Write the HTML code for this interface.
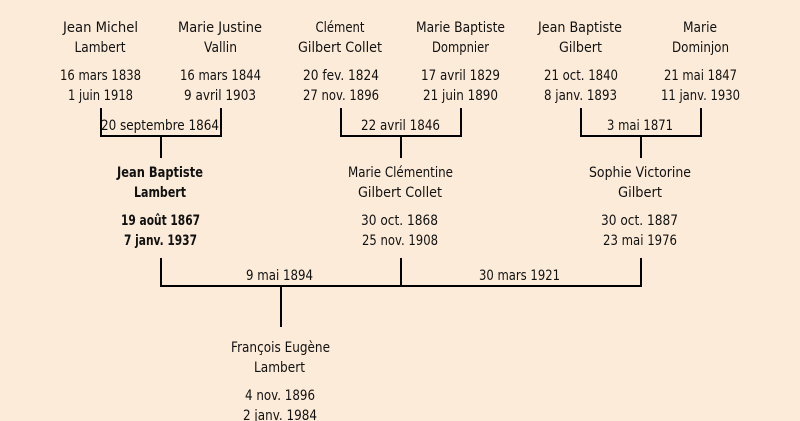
<!DOCTYPE html>
<html><head><meta charset="utf-8"><style>
html,body{margin:0;padding:0;background:#fcebd8}
svg{display:block}
text{font-family:"DejaVu Sans","Liberation Sans",sans-serif;font-size:14px;fill:#111;text-anchor:middle}
.b{font-weight:bold}
</style></head><body>
<svg width="800" height="421" viewBox="0 0 800 421" xmlns="http://www.w3.org/2000/svg">
<rect width="800" height="421" fill="#fcebd8"/>
<g fill="none" stroke="#000" stroke-width="2">
<path d="M101 108V136H221V108M161 136V158"/>
<path d="M341 108V136H461V108M401 136V158"/>
<path d="M581 108V136H701V108M641 136V158"/>
<path d="M161 258V286H641V258M401 258V286M281 286V327"/>
</g>
<g>
<text x="100.500" y="32" textLength="75" lengthAdjust="spacingAndGlyphs">Jean Michel</text>
<text x="100" y="52" textLength="51" lengthAdjust="spacingAndGlyphs">Lambert</text>
<text x="100.500" y="80" textLength="81" lengthAdjust="spacingAndGlyphs">16 mars 1838</text>
<text x="100.500" y="100" textLength="65" lengthAdjust="spacingAndGlyphs">1 juin 1918</text>
<text x="220" y="32" textLength="84" lengthAdjust="spacingAndGlyphs">Marie Justine</text>
<text x="220.500" y="52" textLength="33" lengthAdjust="spacingAndGlyphs">Vallin</text>
<text x="220.500" y="80" textLength="81" lengthAdjust="spacingAndGlyphs">16 mars 1844</text>
<text x="220" y="100" textLength="72" lengthAdjust="spacingAndGlyphs">9 avril 1903</text>
<text x="160" y="130" textLength="118" lengthAdjust="spacingAndGlyphs">20 septembre 1864</text>
<text x="340" y="32" textLength="49" lengthAdjust="spacingAndGlyphs">Clément</text>
<text x="340" y="52" textLength="84" lengthAdjust="spacingAndGlyphs">Gilbert Collet</text>
<text x="341" y="80" textLength="76" lengthAdjust="spacingAndGlyphs">20 fev. 1824</text>
<text x="341" y="100" textLength="76" lengthAdjust="spacingAndGlyphs">27 nov. 1896</text>
<text x="460.500" y="32" textLength="89" lengthAdjust="spacingAndGlyphs">Marie Baptiste</text>
<text x="460.500" y="52" textLength="57" lengthAdjust="spacingAndGlyphs">Dompnier</text>
<text x="460.500" y="80" textLength="79" lengthAdjust="spacingAndGlyphs">17 avril 1829</text>
<text x="460.500" y="100" textLength="75" lengthAdjust="spacingAndGlyphs">21 juin 1890</text>
<text x="400.500" y="130" textLength="79" lengthAdjust="spacingAndGlyphs">22 avril 1846</text>
<text x="580" y="32" textLength="84" lengthAdjust="spacingAndGlyphs">Jean Baptiste</text>
<text x="580.500" y="52" textLength="43" lengthAdjust="spacingAndGlyphs">Gilbert</text>
<text x="581" y="80" textLength="74" lengthAdjust="spacingAndGlyphs">21 oct. 1840</text>
<text x="580.500" y="100" textLength="73" lengthAdjust="spacingAndGlyphs">8 janv. 1893</text>
<text x="700" y="32" textLength="34" lengthAdjust="spacingAndGlyphs">Marie</text>
<text x="700.500" y="52" textLength="57" lengthAdjust="spacingAndGlyphs">Dominjon</text>
<text x="700.500" y="80" textLength="73" lengthAdjust="spacingAndGlyphs">21 mai 1847</text>
<text x="700.500" y="100" textLength="79" lengthAdjust="spacingAndGlyphs">11 janv. 1930</text>
<text x="640" y="130" textLength="66" lengthAdjust="spacingAndGlyphs">3 mai 1871</text>
<text class="b" x="160" y="177" textLength="86" lengthAdjust="spacingAndGlyphs">Jean Baptiste</text>
<text class="b" x="160" y="197" textLength="52" lengthAdjust="spacingAndGlyphs">Lambert</text>
<text class="b" x="160.500" y="225" textLength="79" lengthAdjust="spacingAndGlyphs">19 août 1867</text>
<text class="b" x="160.500" y="245" textLength="73" lengthAdjust="spacingAndGlyphs">7 janv. 1937</text>
<text x="400.500" y="177" textLength="105" lengthAdjust="spacingAndGlyphs">Marie Clémentine</text>
<text x="400" y="197" textLength="84" lengthAdjust="spacingAndGlyphs">Gilbert Collet</text>
<text x="399.500" y="225" textLength="77" lengthAdjust="spacingAndGlyphs">30 oct. 1868</text>
<text x="400" y="245" textLength="76" lengthAdjust="spacingAndGlyphs">25 nov. 1908</text>
<text x="640" y="177" textLength="102" lengthAdjust="spacingAndGlyphs">Sophie Victorine</text>
<text x="640" y="197" textLength="44" lengthAdjust="spacingAndGlyphs">Gilbert</text>
<text x="639.500" y="225" textLength="77" lengthAdjust="spacingAndGlyphs">30 oct. 1887</text>
<text x="640" y="245" textLength="74" lengthAdjust="spacingAndGlyphs">23 mai 1976</text>
<text x="279.500" y="280" textLength="67" lengthAdjust="spacingAndGlyphs">9 mai 1894</text>
<text x="519.500" y="280" textLength="81" lengthAdjust="spacingAndGlyphs">30 mars 1921</text>
<text x="280.500" y="352" textLength="99" lengthAdjust="spacingAndGlyphs">François Eugène</text>
<text x="279.500" y="372" textLength="51" lengthAdjust="spacingAndGlyphs">Lambert</text>
<text x="280" y="400" textLength="70" lengthAdjust="spacingAndGlyphs">4 nov. 1896</text>
<text x="280" y="420" textLength="74" lengthAdjust="spacingAndGlyphs">2 janv. 1984</text>
</g>
</svg>
</body></html>
